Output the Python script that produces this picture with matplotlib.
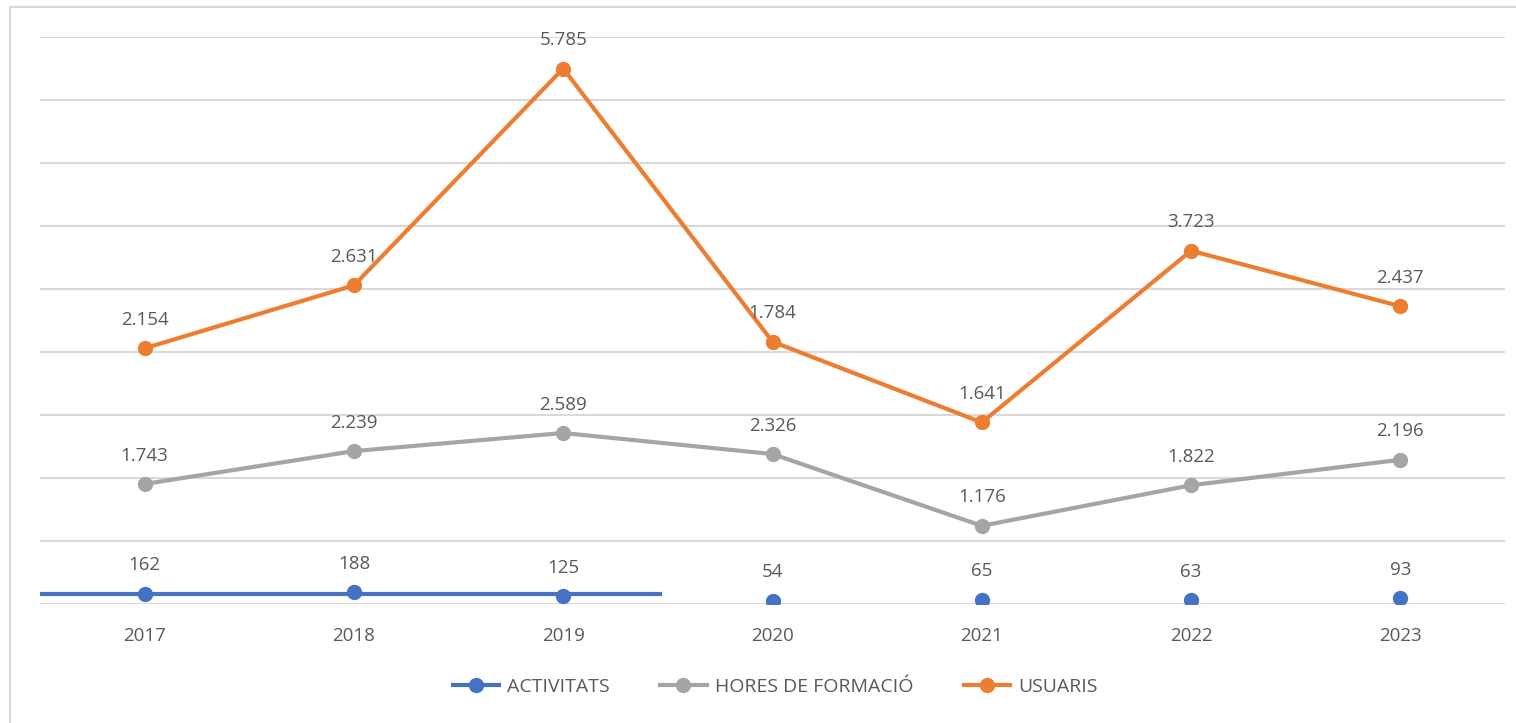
import matplotlib.pyplot as plt
from matplotlib.lines import Line2D
from matplotlib.patches import Rectangle
import numpy as np

years = ['2017', '2018', '2019', '2020', '2021', '2022', '2023']
activitats = [162, 188, 125, 54, 65, 63, 93]
hores = [1743, 2239, 2589, 2326, 1176, 1822, 2196]
usuaris = [2154, 2631, 5785, 1784, 1641, 3723, 2437]

BLUE = '#4472C4'
GREY = '#A5A5A5'
ORANGE = '#ED7D31'
TXT = '#595959'
FONT = 'Open Sans'

plt.rcParams['font.family'] = [FONT, 'DejaVu Sans']


def fmt(v):
    return f"{v:,}".replace(",", ".")


x = np.arange(len(years))
# stacked line chart
cum_blue = np.array(activitats)
cum_grey = cum_blue + np.array(hores)
cum_orange = cum_grey + np.array(usuaris)

fig = plt.figure(figsize=(15.16, 7.23), dpi=100)
fig.patches.append(Rectangle((10 / 1516, -0.1), 1.2, 1 - 7 / 723 + 0.1, transform=fig.transFigure,
                             fill=False, edgecolor='#d9d9d9', linewidth=1.5))

ax = fig.add_axes([40 / 1516, 1 - 604 / 723, 1465 / 1516, 567 / 723])
ax.set_xlim(-0.5, len(years) - 0.5)
ax.set_ylim(0, 9000)
ax.set_yticks(np.arange(0, 9001, 1000))
ax.yaxis.grid(True, color='#d9d9d9', linewidth=1.5)
ax.set_axisbelow(True)
for s in ax.spines.values():
    s.set_visible(False)
ax.tick_params(axis='y', left=False, labelleft=False)
ax.tick_params(axis='x', bottom=False, labelsize=13.5, colors=TXT, pad=13)
ax.set_xticks(x)
ax.set_xticklabels(years)

# stray blue segment in the original (only across the first three years)
ax.hlines(np.mean(activitats[:3]), -0.5, 2.47, color=BLUE, linewidth=3, zorder=2)

ax.plot(x, cum_blue, linestyle='none', marker='o', markersize=10, color=BLUE, zorder=3)
ax.plot(x, cum_grey, marker='o', markersize=10, linewidth=3, color=GREY, zorder=3)
ax.plot(x, cum_orange, marker='o', markersize=10, linewidth=3, color=ORANGE, zorder=3)

for vals, cum in [(activitats, cum_blue), (hores, cum_grey), (usuaris, cum_orange)]:
    for xi, v, c in zip(x, vals, cum):
        ax.annotate(fmt(v), (xi, c), xytext=(0, 14), textcoords='offset points',
                    ha='center', va='bottom', fontsize=13.5, color=TXT)

handles = [Line2D([], [], color=BLUE, linewidth=3, marker='o', markersize=10),
           Line2D([], [], color=GREY, linewidth=3, marker='o', markersize=10),
           Line2D([], [], color=ORANGE, linewidth=3, marker='o', markersize=10)]
fig.legend(handles, ['ACTIVITATS', 'HORES DE FORMACIÓ', 'USUARIS'], loc='center',
           bbox_to_anchor=(775 / 1516, 1 - 687 / 723), ncol=3, frameon=False,
           fontsize=14, labelcolor=TXT, handlelength=2.4, columnspacing=2.6, handletextpad=0.4)

fig.savefig('out.png', dpi=100)
